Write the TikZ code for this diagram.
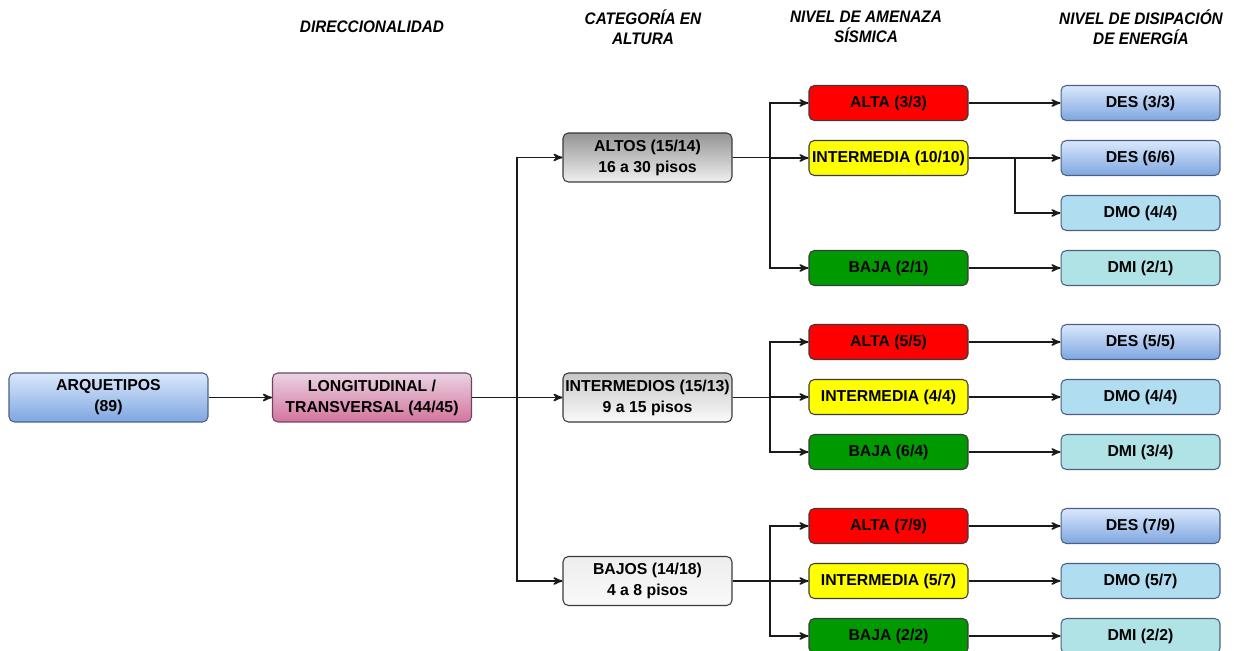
\documentclass[tikz,border=0pt]{standalone}
\usepackage{fontspec}
\setmainfont{Liberation Sans}
\usetikzlibrary{arrows}
\definecolor{linegray}{HTML}{1A1A1A}
\definecolor{bluetop}{HTML}{DAE8FC}
\definecolor{bluebot}{HTML}{7EA6E0}
\definecolor{blueline}{HTML}{4A5F85}
\definecolor{pinktop}{HTML}{E9D4E2}
\definecolor{pinkbot}{HTML}{D5739D}
\definecolor{pinkline}{HTML}{6E4560}
\definecolor{altared}{HTML}{FF0000}
\definecolor{mediayellow}{HTML}{FFFF00}
\definecolor{bajagreen}{HTML}{009900}
\definecolor{dmofill}{HTML}{B1DDF0}
\definecolor{dmifill}{HTML}{B0E3E6}
\definecolor{boxline}{HTML}{3A3A3A}
\newcommand{\hdr}{\fontsize{9.5}{11.3}\selectfont\bfseries\itshape}
\begin{document}
\begin{tikzpicture}[x=0.02cm,y=-0.02cm,>=stealth',
   box/.style={draw=boxline,line width=0.6pt,rounded corners=3pt,align=center,inner sep=1pt,
      font=\fontsize{9}{12}\selectfont\bfseries},
   bigbox/.style={box,minimum width=3.98cm,minimum height=0.98cm},
   catbox/.style={box,minimum width=3.38cm,minimum height=0.98cm},
   smallbox/.style={box,minimum width=3.18cm,minimum height=0.70cm},
   desbox/.style={smallbox,draw=blueline,top color=bluetop,bottom color=bluebot},
   dmobox/.style={smallbox,draw=blueline,fill=dmofill},
   dmibox/.style={smallbox,draw=blueline,fill=dmifill},
   altabox/.style={smallbox,fill=altared},
   mediabox/.style={smallbox,fill=mediayellow},
   bajabox/.style={smallbox,fill=bajagreen},
   conn/.style={->,linegray,line width=0.85pt}]
   \useasboundingbox (0,0) rectangle (1234,651);
   \clip (0,0) rectangle (1234,651);
   % column titles
   \node (h1) at (372,27) [align=center,font=\hdr,xscale=0.92] {DIRECCIONALIDAD};
   \node (h2) at (643,27) [align=center,font=\hdr,xscale=0.92] {CATEGORÍA EN\\ALTURA};
   \node (h3) at (866,27) [align=center,font=\hdr,xscale=0.92] {NIVEL DE AMENAZA\\SÍSMICA};
   \node (h4) at (1141,27) [align=center,font=\hdr,xscale=0.92] {NIVEL DE DISIPACIÓN\\DE ENERGÍA};
   % main boxes
   \node (arq) at (108.5,397.5) [bigbox,draw=blueline,top color=bluetop,bottom color=bluebot] {ARQUETIPOS\\(89)};
   \node (dir) at (372,397.5) [bigbox,draw=pinkline,top color=pinktop,bottom color=pinkbot] {LONGITUDINAL /\\TRANSVERSAL (44/45)};
   \node (altos) at (647.5,157.5) [catbox,top color=black!42,bottom color=black!6] {ALTOS (15/14)\\16 a 30 pisos};
   \node (inter) at (647.5,397.5) [catbox,top color=black!22,bottom color=black!2] {INTERMEDIOS (15/13)\\9 a 15 pisos};
   \node (bajos) at (647.5,581) [catbox,top color=black!7,bottom color=black!2] {BAJOS (14/18)\\4 a 8 pisos};
   % amenaza
   \node (a1) at (888.5,103) [altabox] {ALTA (3/3)};
   \node (m1) at (888.5,158) [mediabox] {INTERMEDIA (10/10)};
   \node (b1) at (888.5,268) [bajabox] {BAJA (2/1)};
   \node (a2) at (888.5,342) [altabox] {ALTA (5/5)};
   \node (m2) at (888.5,397) [mediabox] {INTERMEDIA (4/4)};
   \node (b2) at (888.5,452) [bajabox] {BAJA (6/4)};
   \node (a3) at (888.5,526) [altabox] {ALTA (7/9)};
   \node (m3) at (888.5,581) [mediabox] {INTERMEDIA (5/7)};
   \node (b3) at (888.5,636) [bajabox] {BAJA (2/2)};
   % disipacion
   \node (d1) at (1140.5,103) [desbox] {DES (3/3)};
   \node (d2) at (1140.5,158) [desbox] {DES (6/6)};
   \node (d3) at (1140.5,213) [dmobox] {DMO (4/4)};
   \node (d4) at (1140.5,268) [dmibox] {DMI (2/1)};
   \node (d5) at (1140.5,342) [desbox] {DES (5/5)};
   \node (d6) at (1140.5,397) [dmobox] {DMO (4/4)};
   \node (d7) at (1140.5,452) [dmibox] {DMI (3/4)};
   \node (d8) at (1140.5,526) [desbox] {DES (7/9)};
   \node (d9) at (1140.5,581) [dmobox] {DMO (5/7)};
   \node (d10) at (1140.5,636) [dmibox] {DMI (2/2)};
   % split points
   \coordinate (s0) at (517,397.5);
   \coordinate (s1) at (770,157.5);
   \coordinate (s2) at (770,397.5);
   \coordinate (s3) at (770,581);
   \coordinate (s4) at (1015,158);
   % connectors
   \draw[conn] (arq) to (dir);
   \draw[conn] (dir) -- (s0) |- (altos);
   \draw[conn] (dir) -- (s0) -- (inter);
   \draw[conn] (dir) -- (s0) |- (bajos);
   \draw[conn] (altos) -- (s1) |- (a1);
   \draw[conn] (altos) -- (s1) |- (m1);
   \draw[conn] (altos) -- (s1) |- (b1);
   \draw[conn] (inter) -- (s2) |- (a2);
   \draw[conn] (inter) -- (s2) |- (m2);
   \draw[conn] (inter) -- (s2) |- (b2);
   \draw[conn] (bajos) -- (s3) |- (a3);
   \draw[conn] (bajos) -- (s3) |- (m3);
   \draw[conn] (bajos) -- (s3) |- (b3);
   \draw[conn] (a1) to (d1);
   \draw[conn] (m1) -- (s4) -- (d2);
   \draw[conn] (m1) -- (s4) |- (d3);
   \draw[conn] (b1) to (d4);
   \draw[conn] (a2) to (d5);
   \draw[conn] (m2) to (d6);
   \draw[conn] (b2) to (d7);
   \draw[conn] (a3) to (d8);
   \draw[conn] (m3) to (d9);
   \draw[conn] (b3) to (d10);
\end{tikzpicture}
\end{document}
